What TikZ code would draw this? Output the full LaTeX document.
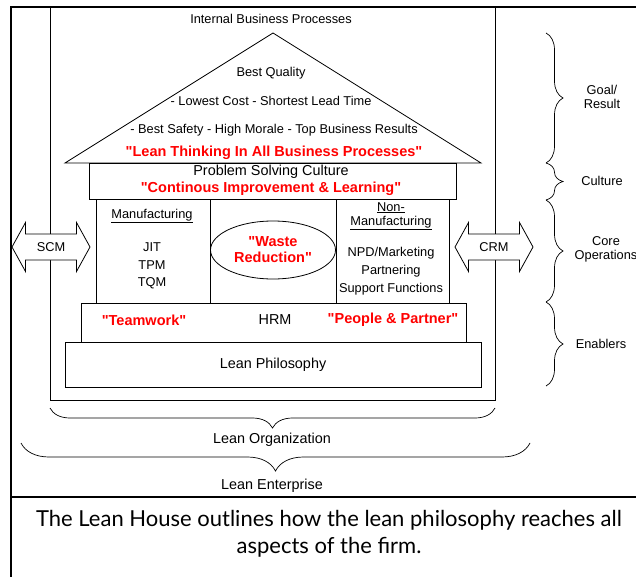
\documentclass[tikz,border=0pt]{standalone}
\usepackage{fontspec}
\setmainfont{Liberation Sans}
\newfontfamily\capfont{Lato}
\usetikzlibrary{shapes.geometric,decorations.pathreplacing}

\begin{document}
\begin{tikzpicture}[x=1pt,y=-1pt,
frame/.style={line width=2.4pt},
box/.style={draw,line width=0.8pt,inner sep=0pt},
txt/.style={font=\fontsize{12.8}{14}\selectfont,inner sep=0pt,align=center},
bigtxt/.style={font=\fontsize{14.4}{16}\selectfont,inner sep=0pt},
redtxt/.style={font=\fontsize{14.5}{16}\selectfont\bfseries,text=red,inner sep=0pt,align=center},
arr/.style={line width=0.8pt,line join=miter,fill=white},
brc/.style={decorate,decoration={brace,amplitude=#1},line width=0.7pt}]

\useasboundingbox (0,0) rectangle (636,577);

% outer frame and caption
\draw[frame] (11,580) -- (11,7) -- (640,7);

\draw[frame] (11,497) -- (640,497);

\node[font=\capfont\fontsize{22}{27.5}\selectfont,align=center,inner sep=0pt] (cap) at (329,534) {The Lean House outlines how the lean philosophy reaches all\\aspects of the firm.};

% lean organization
\node[box,minimum width=445pt,minimum height=393pt] (org) at (272.5,203.5) {};

\node[txt] (ibp) at (271,19) {Internal Business Processes};

% roof
\coordinate (rl) at (65,163);
\coordinate (rt) at (273,33);
\coordinate (rr) at (481,163);
\draw[line width=0.8pt] (rl) -- (rt) -- (rr) -- cycle;

\node[txt] (g1) at (271,73) {Best Quality};

\node[txt] (g2) at (271,101) {- Lowest Cost - Shortest Lead Time};

\node[txt] (g3) at (274,130) {- Best Safety - High Morale - Top Business Results};

\node[redtxt] (g4) at (274,153) {\textquotedbl Lean Thinking In All Business Processes\textquotedbl};

% culture
\node[box,minimum width=367pt,minimum height=36pt] (cult) at (272.5,181) {};

\node[bigtxt] (psc) at (271,172) {Problem Solving Culture};

\node[redtxt] (cil) at (271,189) {\textquotedbl Continous Improvement \& Learning\textquotedbl};

% pillars
\node[box,minimum width=114pt,minimum height=104pt] (mfg) at (153,251) {};

\node[box,minimum width=126pt,minimum height=104pt] (mid) at (273,251) {};

\node[box,minimum width=113pt,minimum height=104pt] (nmfg) at (392.5,251) {};

\node[txt] (mh) at (152,216) {\underline{Manufacturing}};

\node[txt] (jit) at (152,247) {JIT};
\node[txt] (tpm) at (152,265) {TPM};
\node[txt] (tqm) at (152,283) {TQM};

\node[ellipse,draw,line width=0.8pt,minimum width=125pt,minimum height=58pt,inner sep=0pt] (wr) at (273,250) {};

\node[redtxt] (wrt) at (273,250) {\textquotedbl Waste\\Reduction\textquotedbl};

\node[txt] (nh) at (391,216) {\underline{Non-}\\\underline{Manufacturing}};

\node[txt] (npd) at (391,253) {NPD/Marketing};
\node[txt] (par) at (391,271) {Partnering};
\node[txt] (sf) at (391,289) {Support Functions};

% side arrows
\coordinate (scm) at (51,247);
\draw[arr] (scm) ++(-39,0) -- ++(13.5,-24.5) -- ++(0,11.5) -- ++(51,0) -- ++(0,-11.5) -- ++(13.5,24.5) -- ++(-13.5,24.5) -- ++(0,-11.5) -- ++(-51,0) -- ++(0,11.5) -- cycle;
\node[txt] (scmt) at (scm) {SCM};

\coordinate (crm) at (494,247);
\draw[arr] (crm) ++(-39,0) -- ++(13.5,-24.5) -- ++(0,11.5) -- ++(51,0) -- ++(0,-11.5) -- ++(13.5,24.5) -- ++(-13.5,24.5) -- ++(0,-11.5) -- ++(-51,0) -- ++(0,11.5) -- cycle;
\node[txt] (crmt) at (crm) {CRM};

% enablers
\node[box,minimum width=385pt,minimum height=39pt] (hrm) at (273.5,322.5) {};

\node[redtxt] (tw) at (144,320) {\textquotedbl Teamwork\textquotedbl};
\node[bigtxt] (hr) at (275,320) {HRM};
\node[redtxt] (pp) at (393,320) {\textquotedbl People \& Partner\textquotedbl};

\node[box,bigtxt,minimum width=416pt,minimum height=45pt] (phil) at (273,364.5) {Lean Philosophy};

% right braces
\coordinate (b0) at (546,33);
\coordinate (b1) at (546,163);
\coordinate (b2) at (546,200);
\coordinate (b3) at (546,302);
\coordinate (b4) at (546,386);

\draw[brc=17pt] (b0) -- (b1);
\draw[brc=17pt] (b1) -- (b2);
\draw[brc=17pt] (b2) -- (b3);
\draw[brc=17pt] (b3) -- (b4);

\node[txt] (goal) at (602,97) {Goal/\\Result};
\node[txt] (cu) at (602,181) {Culture};
\node[txt] (core) at (606,249) {Core\\Operations};
\node[txt] (en) at (601,344) {Enablers};

% bottom braces
\coordinate (o1) at (495,408);
\coordinate (o2) at (50,408);
\draw[brc=20pt] (o1) -- (o2);
\node[bigtxt] (lo) at (272,440) {Lean Organization};

\coordinate (e1) at (530,443);
\coordinate (e2) at (21,443);
\draw[brc=28pt] (e1) -- (e2);
\node[bigtxt] (le) at (272,486) {Lean Enterprise};

\end{tikzpicture}
\end{document}
